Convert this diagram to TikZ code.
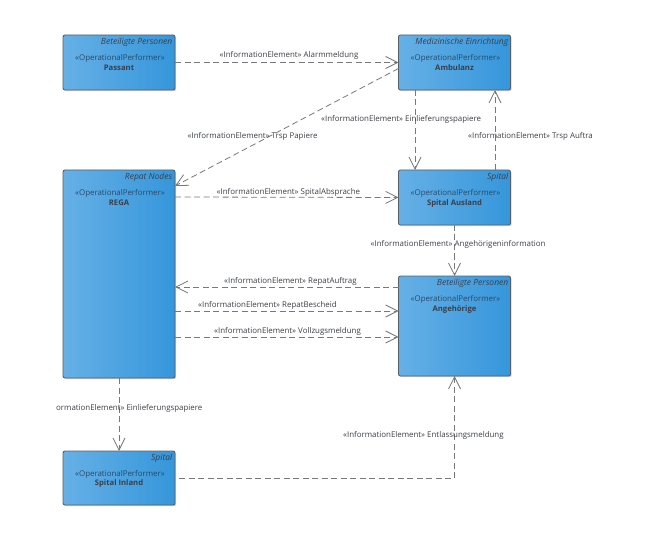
\documentclass[tikz,border=0pt]{standalone}
\usepackage{fontspec}
\setmainfont{Open Sans}
\usetikzlibrary{arrows.meta, shadows}

\definecolor{boxleft}{HTML}{66B0E6}
\definecolor{boxright}{HTML}{3596DB}
\definecolor{boxline}{HTML}{5A5F66}
\definecolor{flowline}{HTML}{787878}
\definecolor{labeltext}{HTML}{3C3F48}
\definecolor{stereotext}{HTML}{2A4A66}

\tikzset{
  performer/.style={draw=boxline, line width=0.9pt, rounded corners=2pt, left color=boxleft, right color=boxright, outer sep=0pt, minimum width=112pt, drop shadow={shadow xshift=1.2pt, shadow yshift=-1.2pt, fill=black!30, opacity=0.6}},
  groupname/.style={anchor=north east, inner sep=0pt, font=\fontsize{8.5}{10}\selectfont\itshape, text=labeltext},
  stereotype/.style={anchor=north, inner sep=0pt, font=\fontsize{7.9}{10}\selectfont, text=stereotext},
  title/.style={anchor=north, inner sep=0pt, font=\fontsize{7.7}{9}\selectfont\bfseries, text=labeltext},
  flowlabel/.style={anchor=west, inner sep=0pt, font=\fontsize{7.9}{10}\selectfont, text=labeltext},
  flow/.style={draw=flowline, line width=0.8pt, dash pattern=on 6pt off 3.5pt, -{Straight Barb[length=12pt, width=12pt, flowline]}},
}

\begin{document}
\begin{tikzpicture}[x=1pt, y=-1pt]
  \useasboundingbox (0,0) rectangle (656,540);
  % boxes
  \node[performer, minimum height=55pt] (Passant) at (119, 62.5) {};
  \node[performer, minimum height=55pt] (Ambulanz) at (454.5, 62.5) {};
  \node[performer, minimum height=208pt] (REGA) at (119, 274) {};
  \node[performer, minimum height=55pt] (SpitalAusland) at (454.5, 197.5) {};
  \node[performer, minimum height=100pt] (Angehoerige) at (454.5, 326) {};
  \node[performer, minimum height=54pt] (SpitalInland) at (119, 478) {};
  % box texts
  \node[groupname] (PassantGroup) at (172.5, 37.5) {Beteiligte Personen};
  \node[stereotype] (PassantType) at (120, 54) {«OperationalPerformer»};
  \node[title] (PassantName) at (119, 64.5) {Passant};
  \node[groupname] (AmbulanzGroup) at (508.5, 37.5) {Medizinische Einrichtung};
  \node[stereotype] (AmbulanzType) at (455.5, 54) {«OperationalPerformer»};
  \node[title] (AmbulanzName) at (454.5, 64.5) {Ambulanz};
  \node[groupname] (REGAGroup) at (172.5, 172.5) {Repat Nodes};
  \node[stereotype] (REGAType) at (120, 189) {«OperationalPerformer»};
  \node[title] (REGAName) at (119, 199.5) {REGA};
  \node[groupname] (SpitalAuslandGroup) at (508.5, 172.5) {Spital};
  \node[stereotype] (SpitalAuslandType) at (455.5, 189) {«OperationalPerformer»};
  \node[title] (SpitalAuslandName) at (454.5, 199.5) {Spital Ausland};
  \node[groupname] (AngehoerigeGroup) at (508.5, 278.5) {Beteiligte Personen};
  \node[stereotype] (AngehoerigeType) at (455.5, 295) {«OperationalPerformer»};
  \node[title] (AngehoerigeName) at (454.5, 305.5) {Angehörige};
  \node[groupname] (SpitalInlandGroup) at (172.5, 453.5) {Spital};
  \node[stereotype] (SpitalInlandType) at (120, 470) {«OperationalPerformer»};
  \node[title] (SpitalInlandName) at (119, 479.5) {Spital Inland};
  % flows
  \draw[flow] (Passant.east) -- (Ambulanz.west);
  \draw[flow] ([yshift=-6pt]Ambulanz.west) -- ([yshift=88pt]REGA.east);
  \draw[flow] ([xshift=-39.5pt]Ambulanz.south) -- ([xshift=-39.5pt]SpitalAusland.north);
  \draw[flow] ([xshift=40.5pt]SpitalAusland.north) -- ([xshift=40.5pt]Ambulanz.south);
  \draw[flow] ([yshift=77pt]REGA.east) -- (SpitalAusland.west);
  \draw[flow] (SpitalAusland.south) -- (Angehoerige.north);
  \draw[flow] ([yshift=39pt]Angehoerige.west) -- ([yshift=-13pt]REGA.east);
  \draw[flow] ([yshift=-37pt]REGA.east) -- ([yshift=15pt]Angehoerige.west);
  \draw[flow] ([yshift=-63pt]REGA.east) -- ([yshift=-11pt]Angehoerige.west);
  \draw[flow] (REGA.south) -- (SpitalInland.north);
  \coordinate (InlandCorner) at (454.5, 478);
  \draw[flow] ([xshift=4pt]SpitalInland.east) -- (InlandCorner) -- (Angehoerige.south);
  % flow labels
  \node[flowlabel] (AlarmLabel) at (219.5, 55.5) {«InformationElement» Alarmmeldung};
  \node[flowlabel] (PapiereLabel) at (187.5, 136) {«InformationElement» Trsp Papiere};
  \node[flowlabel] (EinlieferungLabel) at (321, 119) {«InformationElement» Einlieferungspapiere};
  \node[flowlabel] (AuftraLabel) at (468, 136) {«InformationElement» Trsp Auftra};
  \node[flowlabel] (AbspracheLabel) at (216.5, 192) {«InformationElement» SpitalAbsprache};
  \node[flowlabel] (InformationLabel) at (370.5, 244.5) {«InformationElement» Angehörigeninformation};
  \node[flowlabel] (AuftragLabel) at (224, 281.5) {«InformationElement» RepatAuftrag};
  \node[flowlabel] (BescheidLabel) at (198, 305.5) {«InformationElement» RepatBescheid};
  \node[flowlabel] (VollzugLabel) at (214, 331.5) {«InformationElement» Vollzugsmeldung};
  \node[flowlabel] (InlandLabel) at (56, 408.5) {ormationElement» Einlieferungspapiere};
  \node[flowlabel] (EntlassungLabel) at (343, 435.5) {«InformationElement» Entlassungsmeldung};
\end{tikzpicture}
\end{document}
